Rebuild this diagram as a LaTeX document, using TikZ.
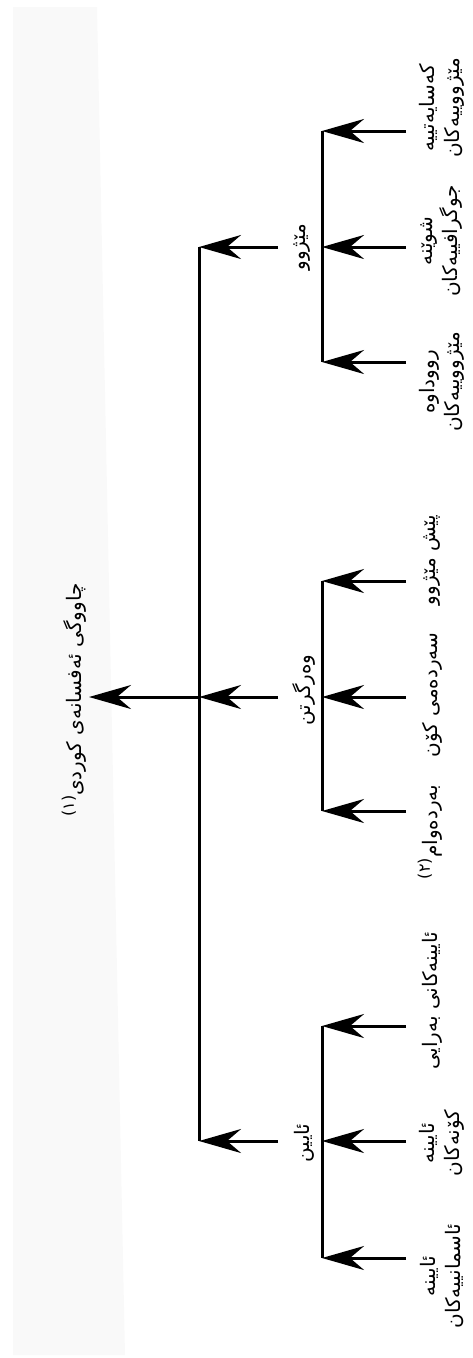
\documentclass[tikz,border=0pt]{standalone}
\usepackage{fontspec}
\newfontfamily\arabicfont[Script=Arabic]{DejaVu Sans}
\TeXXeTstate=1
\usetikzlibrary{arrows.meta}
\begin{document}
\begin{tikzpicture}[x=1pt,y=-1pt,
  lbl/.style={rotate=90,font=\arabicfont\fontsize{20}{25}\selectfont,align=center,inner sep=0pt},
  conn/.style={line width=3pt},
  arr/.style={line width=3pt,-{Stealth[length=42pt,width=24pt,inset=14pt]}}]
\useasboundingbox (0,0) rectangle (472,1358);
\fill[gray!5] (13,7) -- (97,7) -- (125,1355) -- (13,1355) -- cycle;
% labels
\node[lbl] (title) at (74,700) {\beginR چاووگی ئەفسانەی کوردی\raisebox{0.7ex}{\fontsize{16}{18}\selectfont (١)}\endR};
\node[lbl] (m1) at (302,247) {\beginR مێژوو\endR};
\node[lbl] (m2) at (304,690) {\beginR وەرگرتن\endR};
\node[lbl] (m3) at (304,1143) {\beginR ئایین\endR};
\node[lbl] (l1) at (442,108) {\beginR کەسایەتییە\endR\\\beginR مێژووییەکان\endR};
\node[lbl] (l2) at (442,241) {\beginR شوێنە\endR\\\beginR جوگرافییەکان\endR};
\node[lbl] (l3) at (442,382) {\beginR رووداوە\endR\\\beginR مێژووییەکان\endR};
\node[lbl] (v1) at (432,560) {\beginR پێش مێژوو\endR};
\node[lbl] (v2) at (432,695) {\beginR سەردەمی کۆن\endR};
\node[lbl] (v3) at (430,832) {\beginR بەردەوام\raisebox{0.7ex}{\fontsize{16}{18}\selectfont (٢)}\endR};
\node[lbl] (a1) at (432,1001) {\beginR ئایینەکانی بەرایی\endR};
\node[lbl] (a2) at (442,1143) {\beginR ئایینە\endR\\\beginR کۆنەکان\endR};
\node[lbl] (a3) at (442,1276) {\beginR ئایینە\endR\\\beginR ئاسمانییەکان\endR};
% coordinates
\coordinate (tr1) at (199,247);
\coordinate (tr2) at (199,697);
\coordinate (tr3) at (199,1141);
\coordinate (tt) at (89,697);
\coordinate (m1s) at (278,247);
\coordinate (m2s) at (278,697);
\coordinate (m3s) at (278,1141);
\coordinate (s1a) at (322,131);
\coordinate (s1b) at (322,247);
\coordinate (s1c) at (322,362);
\coordinate (s2a) at (322,581);
\coordinate (s2b) at (322,697);
\coordinate (s2c) at (322,811);
\coordinate (s3a) at (322,1026);
\coordinate (s3b) at (322,1141);
\coordinate (s3c) at (322,1258);
\coordinate (l1s) at (406,131);
\coordinate (l2s) at (406,247);
\coordinate (l3s) at (406,362);
\coordinate (v1s) at (406,581);
\coordinate (v2s) at (406,697);
\coordinate (v3s) at (406,811);
\coordinate (a1s) at (406,1026);
\coordinate (a2s) at (406,1141);
\coordinate (a3s) at (406,1258);
% trunk
\draw[conn] (tr1) -- (tr3);
\draw[arr] (tr2) -- (tt);
\draw[arr] (m1s) -- (tr1);
\draw[arr] (m2s) -- (tr2);
\draw[arr] (m3s) -- (tr3);
% subtrees
\draw[conn] (s1a) -- (s1c);
\draw[conn] (s2a) -- (s2c);
\draw[conn] (s3a) -- (s3c);
\draw[arr] (l1s) -- (s1a);
\draw[arr] (l2s) -- (s1b);
\draw[arr] (l3s) -- (s1c);
\draw[arr] (v1s) -- (s2a);
\draw[arr] (v2s) -- (s2b);
\draw[arr] (v3s) -- (s2c);
\draw[arr] (a1s) -- (s3a);
\draw[arr] (a2s) -- (s3b);
\draw[arr] (a3s) -- (s3c);
\end{tikzpicture}
\end{document}
